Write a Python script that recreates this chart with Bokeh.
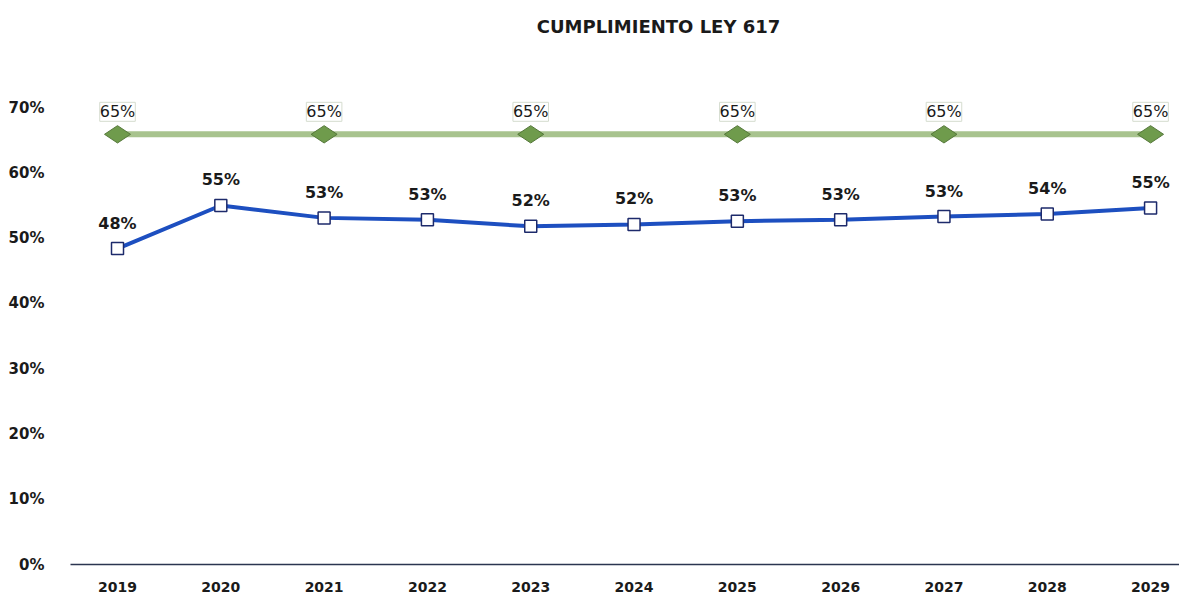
import math
from bokeh.plotting import figure
from bokeh.models import ColumnDataSource, LabelSet, Range1d, FixedTicker, Label
from bokeh.core.properties import value
from bokeh.embed import file_html
from bokeh.resources import INLINE

years = [2019, 2020, 2021, 2022, 2023, 2024, 2025, 2026, 2027, 2028, 2029]
actual = [0.484, 0.550, 0.531, 0.528, 0.518, 0.521, 0.526, 0.528, 0.533, 0.537, 0.546]
actual_labels = ["48%", "55%", "53%", "53%", "52%", "52%", "53%", "53%", "53%", "54%", "55%"]
limit_years = [2019, 2021, 2023, 2025, 2027, 2029]
limit = [0.659, 0.659, 0.659, 0.659, 0.659, 0.659]
limit_labels = ["65%", "65%", "65%", "65%", "65%", "65%"]
y_ticks = [0, 0.1, 0.2, 0.3, 0.4, 0.5, 0.6, 0.7]
y_tick_labels = ["0%", "10%", "20%", "30%", "40%", "50%", "60%", "70%"]
title_text = "CUMPLIMIENTO LEY 617"

FONT = "DejaVu Sans"

p = figure(width=1179, height=594, output_backend="svg", toolbar_location=None,
           x_range=Range1d(2018.545, 2029.28), y_range=Range1d(0, 0.864),
           min_border_left=70, min_border_right=0, min_border_top=0, min_border_bottom=29)
p.outline_line_color = None
p.xgrid.visible = False
p.ygrid.visible = False
p.background_fill_color = "white"
p.border_fill_color = "white"

# axes
p.xaxis.ticker = FixedTicker(ticks=years)
p.xaxis.major_label_overrides = {y: str(y) for y in years}
p.xaxis.axis_line_color = "#2b3550"
p.xaxis.axis_line_width = 1.5
p.xaxis.major_tick_line_color = None
p.xaxis.minor_tick_line_color = None
p.xaxis.major_label_standoff = 11
p.xaxis.major_label_text_font = FONT
p.xaxis.major_label_text_font_style = "bold"
p.xaxis.major_label_text_font_size = "14px"
p.xaxis.major_label_text_color = "#1a1a1a"

p.yaxis.ticker = FixedTicker(ticks=y_ticks)
p.yaxis.major_label_overrides = dict(zip(y_ticks, y_tick_labels))
p.yaxis.axis_line_color = None
p.yaxis.major_tick_line_color = None
p.yaxis.minor_tick_line_color = None
p.yaxis.major_label_standoff = 20
p.yaxis.major_label_text_font = FONT
p.yaxis.major_label_text_font_style = "bold"
p.yaxis.major_label_text_font_size = "15px"
p.yaxis.major_label_text_color = "#1a1a1a"

src_a = ColumnDataSource(dict(x=years, y=actual, lab=actual_labels))
src_l = ColumnDataSource(dict(x=limit_years, y=limit, lab=limit_labels))

# limit line (green)
p.line("x", "y", source=src_l, line_color="#a8c38e", line_width=6)
p.scatter("x", "y", source=src_l, marker="diamond", size=26, angle=math.pi / 2,
          fill_color="#6f9b4c", line_color="#55783a", line_width=1)

# actual line (blue)
p.line("x", "y", source=src_a, line_color="#1d4fc0", line_width=4)
p.scatter("x", "y", source=src_a, marker="square", size=12, fill_color="white",
          line_color="#1d2a6b", line_width=1.5)

lab_a = LabelSet(x="x", y="y", text="lab", source=src_a, y_offset=16, text_align="center",
                 text_baseline="bottom", text_font=value(FONT), text_font_style="bold",
                 text_font_size="16px", text_color="#1a1a1a")
p.add_layout(lab_a)

lab_l = LabelSet(x="x", y="y", text="lab", source=src_l, y_offset=13,
                 text_align="center", text_baseline="bottom", text_font=value(FONT),
                 text_font_style="normal", text_font_size="16px", text_color="#1a1a1a",
                 background_fill_color="white", border_line_color="#d5dccf",
                 border_line_width=1)
p.add_layout(lab_l)

title = Label(x=588, y=594 - 29 - 27, x_units="screen", y_units="screen", text=title_text,
              text_align="center", text_baseline="middle", text_font=FONT,
              text_font_style="bold", text_font_size="18px", text_color="#1a1a1a")
p.add_layout(title)

open("out.html", "w").write(file_html(p, INLINE))
